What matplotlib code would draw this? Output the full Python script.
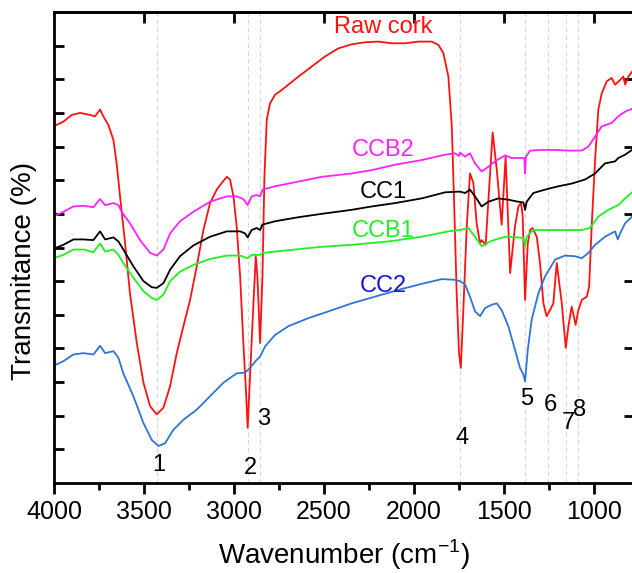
import numpy as np
import matplotlib
matplotlib.use("Agg")
import matplotlib.pyplot as plt
from matplotlib.ticker import MultipleLocator

plt.rcParams['font.family'] = ['Liberation Sans', 'DejaVu Sans']

# FTIR spectra (wavenumber in cm-1, transmittance in a.u.)
raw_w = [4003, 3948, 3902, 3855, 3800, 3772, 3744, 3726, 3698, 3670, 3652, 3633, 3605, 3578, 3540,
         3503, 3466, 3429, 3392, 3355, 3318, 3281, 3244, 3207, 3170, 3133, 3096, 3068, 3040, 3022,
         3003, 2985, 2966, 2948, 2933, 2924, 2911, 2892, 2879, 2870, 2855, 2842, 2831, 2818, 2800,
         2772, 2735, 2698, 2642, 2568, 2494, 2420, 2346, 2272, 2198, 2124, 2050, 1976, 1901, 1864,
         1837, 1809, 1790, 1776, 1763, 1750, 1740, 1726, 1707, 1689, 1670, 1652, 1633, 1624, 1602,
         1583, 1563, 1540, 1513, 1491, 1466, 1439, 1420, 1405, 1396, 1383, 1368, 1355, 1342, 1318,
         1300, 1281, 1263, 1244, 1226, 1207, 1179, 1157, 1142, 1124, 1102, 1087, 1068, 1040, 1027,
         1013, 994, 976, 957, 929, 902, 883, 855, 837, 827, 809, 789]
raw_t = [53.0, 53.7, 54.7, 55.0, 54.7, 54.5, 55.5, 54.5, 53.2, 51.0, 47.5, 42.6, 35.6, 28.2, 20.8,
         14.9, 11.4, 10.2, 11.2, 14.4, 19.3, 23.3, 27.2, 32.2, 37.6, 41.6, 43.6, 44.6, 45.5, 45.1,
         42.6, 38.1, 30.7, 20.8, 13.4, 8.2, 15.8, 26.7, 33.7, 30.7, 20.8, 30.7, 45.5, 54.0, 56.4,
         57.7, 58.4, 59.2, 60.4, 61.9, 63.4, 64.6, 65.2, 65.5, 65.6, 65.35, 65.35, 65.6, 65.6, 65.1,
         63.9, 60.4, 53.0, 40.6, 28.2, 19.3, 17.1, 25.7, 38.1, 46.0, 44.6, 38.6, 35.6, 36.1, 35.4,
         43.6, 52.1, 46.5, 38.4, 48.5, 31.2, 38.1, 41.1, 41.6, 39.6, 27.2, 35.6, 37.6, 37.9, 36.6,
         32.7, 26.7, 24.8, 25.7, 26.7, 32.7, 26.7, 20.1, 23.3, 26.2, 23.5, 25.7, 27.2, 27.7, 29.2,
         38.1, 48.0, 55.5, 57.9, 59.7, 60.2, 59.2, 59.9, 60.4, 59.2, 60.4, 61.1]

ccb2_w = [4003, 3948, 3892, 3837, 3781, 3744, 3716, 3670, 3642, 3624, 3578, 3522, 3466, 3429, 3392,
          3355, 3300, 3226, 3133, 3040, 2985, 2948, 2924, 2902, 2874, 2855, 2842, 2772, 2642, 2513,
          2346, 2235, 2105, 1957, 1827, 1772, 1750, 1744, 1716, 1689, 1661, 1624, 1587, 1550, 1494,
          1457, 1402, 1387, 1383, 1378, 1355, 1291, 1216, 1142, 1068, 1031, 994, 957, 902, 865,
          827, 789]
ccb2_t = [39.6, 40.3, 41.1, 41.2, 41.0, 42.2, 41.3, 41.6, 41.3, 40.3, 38.6, 36.1, 34.2, 33.8, 34.7,
          37.1, 38.9, 40.3, 41.8, 42.6, 42.6, 42.2, 41.3, 42.6, 42.8, 42.6, 43.6, 44.1, 44.8, 45.5,
          46.0, 46.5, 47.3, 48.0, 48.8, 49.0, 48.6, 49.1, 48.5, 49.0, 47.5, 46.3, 47.0, 47.8, 48.7,
          48.3, 48.3, 48.3, 46.0, 48.5, 49.4, 49.5, 49.5, 49.4, 49.4, 50.0, 51.5, 53.0, 53.5, 54.5,
          55.2, 55.6]

cc1_w = [4003, 3948, 3892, 3837, 3781, 3744, 3716, 3670, 3642, 3615, 3559, 3503, 3457, 3429, 3392,
         3355, 3300, 3226, 3133, 3040, 2966, 2939, 2924, 2902, 2874, 2855, 2842, 2772, 2642, 2513,
         2346, 2235, 2105, 1957, 1827, 1753, 1744, 1716, 1689, 1661, 1624, 1587, 1531, 1476, 1420,
         1392, 1383, 1374, 1337, 1272, 1198, 1124, 1050, 994, 939, 883, 865, 827, 789]
cc1_t = [34.8, 35.4, 36.2, 36.2, 36.1, 37.4, 36.2, 36.5, 35.9, 34.7, 32.2, 30.0, 29.1, 29.0, 29.7,
         31.7, 33.7, 35.3, 36.6, 37.4, 37.4, 37.1, 36.5, 37.6, 37.9, 37.6, 38.4, 38.9, 39.5, 40.0,
         40.6, 41.1, 41.6, 42.3, 43.2, 43.3, 43.3, 43.1, 43.6, 42.6, 41.1, 41.8, 42.3, 42.1, 41.8,
         41.7, 40.6, 41.8, 43.1, 43.6, 44.1, 44.5, 45.1, 46.0, 47.5, 47.8, 48.3, 48.8, 49.5]

ccb1_w = [4003, 3948, 3892, 3837, 3781, 3744, 3716, 3670, 3642, 3615, 3559, 3503, 3457, 3429, 3392,
          3355, 3300, 3226, 3133, 3040, 2966, 2924, 2902, 2874, 2855, 2842, 2698, 2513, 2346, 2142,
          1957, 1809, 1750, 1744, 1698, 1661, 1624, 1568, 1494, 1420, 1392, 1383, 1374, 1337, 1253,
          1161, 1068, 1022, 976, 920, 865, 827, 789]
ccb1_t = [33.4, 33.9, 34.7, 34.7, 34.3, 35.6, 34.4, 34.7, 33.9, 32.7, 30.5, 28.5, 27.5, 27.2, 28.0,
          30.0, 31.4, 32.4, 33.3, 33.8, 33.8, 33.4, 33.9, 33.9, 33.9, 34.2, 34.6, 35.1, 35.4, 35.9,
          36.6, 37.4, 37.6, 37.6, 37.9, 36.6, 35.2, 36.0, 36.6, 36.5, 36.4, 35.2, 36.6, 37.6, 37.6,
          37.6, 37.6, 37.9, 39.6, 40.6, 41.3, 42.3, 43.2]

cc2_w = [4003, 3948, 3892, 3837, 3781, 3744, 3716, 3670, 3642, 3615, 3559, 3503, 3457, 3420, 3383,
         3337, 3281, 3207, 3133, 3059, 2985, 2939, 2911, 2874, 2855, 2827, 2772, 2698, 2587, 2476,
         2346, 2216, 2087, 1957, 1846, 1772, 1744, 1716, 1689, 1661, 1633, 1605, 1568, 1540, 1513,
         1476, 1439, 1411, 1392, 1383, 1368, 1346, 1309, 1272, 1216, 1161, 1105, 1068, 1031, 994,
         939, 883, 868, 850, 827, 789]
cc2_t = [17.4, 18.1, 19.1, 19.3, 19.1, 20.4, 19.3, 19.6, 18.6, 16.3, 12.9, 8.9, 6.4, 5.5, 5.9,
         7.9, 9.4, 10.9, 12.9, 14.9, 16.3, 16.4, 17.1, 18.3, 18.8, 20.3, 22.0, 23.3, 24.5, 25.5,
         26.7, 27.7, 28.7, 29.6, 30.3, 30.2, 30.0, 29.5, 27.7, 25.5, 24.8, 26.0, 26.5, 26.7, 25.7,
         23.3, 19.8, 17.1, 16.1, 15.1, 19.8, 24.3, 28.2, 30.7, 33.2, 33.8, 33.7, 33.4, 34.2, 35.4,
         36.6, 37.4, 36.2, 37.4, 38.6, 39.6]

# marked bands
band_w = [3430, 2924, 2856, 1744, 1383, 1254, 1157, 1087]
band_labels = ['1', '2', '3', '4', '5', '6', '7', '8']
band_label_w = [3417, 2911, 2833, 1733, 1372, 1244, 1144, 1078]
band_label_t = [2.7, 2.2, 9.5, 6.7, 12.5, 11.6, 8.9, 10.8]

series = [
    ('Raw cork', raw_w, raw_t, '#ff1111', '#ff1111', 67.8),
    ('CCB2', ccb2_w, ccb2_t, '#ff22ff', '#ff22ff', 49.5),
    ('CC1', cc1_w, cc1_t, 'black', 'black', 43.2),
    ('CCB1', ccb1_w, ccb1_t, '#22ee22', '#22ee22', 37.4),
    ('CC2', cc2_w, cc2_t, '#2f74d6', '#1515d8', 29.3),
]

fig = plt.figure(figsize=(6.32, 5.73), dpi=100)
ax = fig.add_axes([54 / 632, 90 / 573, 579.6 / 632, 471 / 573])

for w in band_w:
    ax.axvline(w, color='#d8d8d8', lw=0.8, ls=(0, (4, 3)), zorder=0)

for name, w, t, lc, tc, ty in series:
    ax.plot(w, t, color=lc, lw=1.3)
    ax.text(2170, ty, name, color=tc, fontsize=17, ha='center', va='center')

for lab, w, t in zip(band_labels, band_label_w, band_label_t):
    ax.text(w, t, lab, fontsize=17, ha='center', va='center')

ax.set_xlim(4000, 780)
ax.set_ylim(0, 70)
ax.set_xticks(np.arange(4000, 999, -500))
ax.xaxis.set_minor_locator(MultipleLocator(250))
ax.set_yticks(np.arange(10, 61, 10))
ax.set_yticks(np.arange(5, 66, 10), minor=True)

ax.tick_params(axis='x', which='major', direction='out', length=8, width=2,
               top=False, labelsize=18, pad=4)
ax.tick_params(axis='x', which='minor', direction='out', length=5, width=2, top=False)
ax.tick_params(axis='y', which='both', direction='in', length=7, width=2,
               right=False, labelleft=False)

top = ax.secondary_xaxis('top')
top.set_xticks(np.arange(3500, 999, -500))
top.tick_params(direction='in', length=8, width=2, labeltop=False)
right = ax.secondary_yaxis('right')
right.set_yticks(np.arange(10, 61, 10))
right.tick_params(direction='in', length=7, width=2, labelright=False)

for sp in ax.spines.values():
    sp.set_linewidth(2)
top.spines['top'].set_linewidth(2)
right.spines['right'].set_linewidth(2)

ax.set_xlabel('Wavenumber (cm$^{\\mathregular{-1}}$)', fontsize=20, labelpad=10)
ax.set_ylabel('Transmitance (%)', fontsize=20)
ax.yaxis.set_label_coords(-0.03, 0.45)

fig.savefig('out.png', dpi=100)
